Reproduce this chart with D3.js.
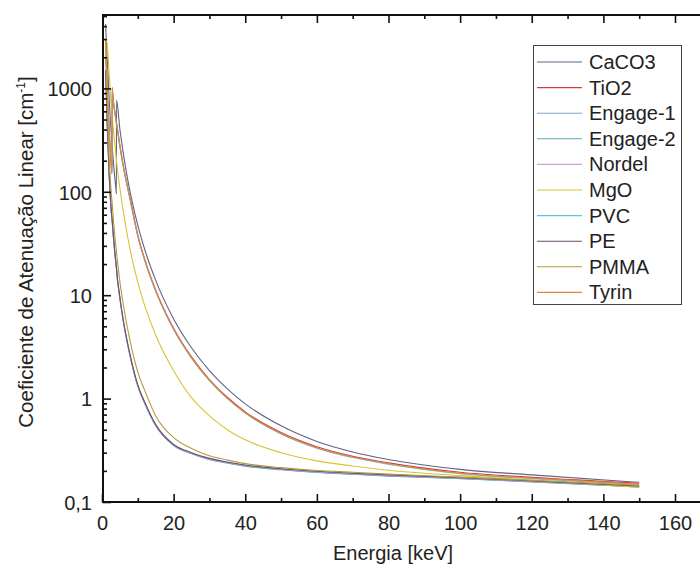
<!DOCTYPE html>
<html>
<head>
<meta charset="utf-8">
<script src="https://cdn.jsdelivr.net/npm/d3@7"></script>
<style>
  html, body { margin: 0; padding: 0; background: #fff; }
  svg text { font-family: "Liberation Sans", Arial, sans-serif; fill: #222; }
</style>
</head>
<body>
<svg id="chart" width="700" height="569"></svg>
<script>
// ---- data ----
const energies = [1, 1.5, 2, 2.8, 2.85, 3, 4, 4.03, 4.05, 5, 6, 8, 10, 12, 15, 20, 25, 30, 35, 40, 50, 60, 70, 80, 100, 120, 150];

const seriesNames = ["CaCO3", "TiO2", "Engage-1", "Engage-2", "Nordel", "MgO", "PVC", "PE", "PMMA", "Tyrin"];
const seriesColors = ["#5f6486", "#d9383a", "#74a9d4", "#5aaeae", "#c9a2dc", "#d8c431", "#55c6de", "#6a4c6e", "#b49b38", "#e0863a"];

const CaCO3   = [4200, 1850, 785, 285, 270, 232, 98, 96, 770, 403, 229, 94, 47.3, 27.2, 13.9, 5.9, 3.1, 1.86, 1.24, 0.89, 0.545, 0.385, 0.305, 0.258, 0.207, 0.183, 0.155];
const TiO2    = [2960, 918, 408, 153, 1020, 877, 479, 471, 467, 281, 175, 81.6, 38.2, 21.9, 11.2, 4.8, 2.53, 1.53, 1.03, 0.745, 0.469, 0.342, 0.277, 0.239, 0.194, 0.173, 0.152];
const Engage1 = [1460, 410, 146, 53.6, 51.7, 43.9, 18.5, 18.1, 17.7, 9.25, 5.46, 2.44, 1.32, 0.887, 0.546, 0.351, 0.293, 0.257, 0.238, 0.222, 0.205, 0.193, 0.185, 0.178, 0.168, 0.156, 0.14];
const Engage2 = [1470, 412, 147, 53.9, 51.9, 44.1, 18.6, 18.2, 17.8, 9.3, 5.5, 2.45, 1.32, 0.89, 0.549, 0.353, 0.294, 0.259, 0.239, 0.223, 0.206, 0.194, 0.186, 0.179, 0.169, 0.157, 0.14];
const Nordel  = [1485, 416, 148.5, 54.5, 52.5, 44.5, 18.8, 18.4, 18, 9.4, 5.55, 2.48, 1.34, 0.9, 0.555, 0.357, 0.297, 0.261, 0.242, 0.226, 0.208, 0.196, 0.188, 0.181, 0.17, 0.158, 0.141];
const MgO     = [3200, 2600, 1400, 560, 540, 470, 210, 205, 201, 108, 63, 26, 13.3, 7.8, 4.1, 1.86, 1.02, 0.68, 0.5, 0.4, 0.3, 0.25, 0.223, 0.203, 0.18, 0.163, 0.138];
const PVC     = [2870, 891, 396, 148.5, 990, 851, 465, 457, 453, 272, 170, 79.2, 37.1, 21.3, 10.9, 4.65, 2.46, 1.49, 1.0, 0.723, 0.455, 0.332, 0.269, 0.232, 0.188, 0.168, 0.148];
const PE      = [1500, 420, 150, 55, 53, 45, 19, 18.6, 18.2, 9.5, 5.6, 2.5, 1.35, 0.91, 0.56, 0.36, 0.3, 0.264, 0.244, 0.228, 0.21, 0.198, 0.19, 0.183, 0.172, 0.16, 0.143];
const PMMA    = [2100, 580, 215, 80, 77, 65, 27, 26.4, 26, 13.5, 7.9, 3.4, 1.8, 1.18, 0.68, 0.42, 0.33, 0.28, 0.255, 0.235, 0.215, 0.202, 0.194, 0.186, 0.174, 0.162, 0.145];
const Tyrin   = [2900, 900, 400, 150, 1000, 860, 470, 462, 458, 275, 172, 80, 37.5, 21.5, 11, 4.7, 2.48, 1.5, 1.01, 0.73, 0.46, 0.335, 0.272, 0.234, 0.19, 0.17, 0.149];

const seriesValues = [CaCO3, TiO2, Engage1, Engage2, Nordel, MgO, PVC, PE, PMMA, Tyrin];

const xMajorTicks = [0, 20, 40, 60, 80, 100, 120, 140, 160];
const xMinorTicks = [10, 30, 50, 70, 90, 110, 130, 150];
const yMajorTicks = [0.1, 1, 10, 100, 1000];
const yTickLabels = ["0,1", "1", "10", "100", "1000"];

const xTitle = "Energia [keV]";
const yTitleMain = "Coeficiente de Atenuação Linear [cm";
const yTitleSup = "-1";
const yTitleEnd = "]";

(function () {
// ---- layout ----
const svg = d3.select("#chart");
const W = 700, H = 569;
const pLeft = 103, pTop = 15, pBottom = 502;

const x = d3.scaleLinear().domain([0, 160]).range([102, 675]);
const y = d3.scaleLog().domain([0.1, 5000]).range([pBottom, pBottom - 103.4 * Math.log10(50000)]);

svg.append("rect").attr("width", W).attr("height", H).attr("fill", "#fff");

svg.append("clipPath").attr("id", "plotClip")
  .append("rect").attr("x", pLeft).attr("y", pTop).attr("width", W - pLeft).attr("height", pBottom - pTop);

// curves
const line = d3.line().x(d => x(d[0])).y(d => y(d[1])).curve(d3.curveMonotoneX);
const curves = svg.append("g").attr("clip-path", "url(#plotClip)");
seriesNames.forEach((name, i) => {
  const pts = energies.map((e, j) => [e, seriesValues[i][j]]);
  curves.append("path")
    .attr("d", line(pts))
    .attr("fill", "none")
    .attr("stroke", seriesColors[i])
    .attr("stroke-width", 1.1);
});

// axes
const fontSize = 20;
function styleAxis(g) {
  g.select(".domain").remove();
  g.selectAll(".tick line").attr("stroke", "#111").attr("stroke-width", 1.6);
  g.selectAll(".tick text").attr("font-size", fontSize).attr("fill", "#222")
    .attr("font-family", '"Liberation Sans", Arial, sans-serif');
}

const xb = svg.append("g").attr("transform", `translate(0,${pBottom})`)
  .call(d3.axisBottom(x).tickValues(xMajorTicks).tickSize(-8).tickPadding(14).tickFormat(d3.format("d")));
styleAxis(xb);
const xbm = svg.append("g").attr("transform", `translate(0,${pBottom})`)
  .call(d3.axisBottom(x).tickValues(xMinorTicks).tickSize(-4).tickFormat(""));
styleAxis(xbm);
const xt = svg.append("g").attr("transform", `translate(0,${pTop})`)
  .call(d3.axisTop(x).tickValues(xMajorTicks.filter(d => d > 0)).tickSize(-8).tickFormat(""));
styleAxis(xt);
const xtm = svg.append("g").attr("transform", `translate(0,${pTop})`)
  .call(d3.axisTop(x).tickValues(xMinorTicks).tickSize(-4).tickFormat(""));
styleAxis(xtm);

const yl = svg.append("g").attr("transform", `translate(${pLeft},0)`)
  .call(d3.axisLeft(y).tickValues(yMajorTicks).tickSize(-8).tickPadding(11)
    .tickFormat((d, i) => yTickLabels[i]));
styleAxis(yl);
yl.selectAll(".tick text").attr("dy", "0.36em");
const yMinor = [];
yMajorTicks.forEach(dec => {
  for (let k = 2; k <= 9; k++) { const v = dec * k; if (v <= 5000) yMinor.push(v); }
});
const ylm = svg.append("g").attr("transform", `translate(${pLeft},0)`)
  .call(d3.axisLeft(y).tickValues(yMinor).tickSize(-4).tickFormat(""));
styleAxis(ylm);

svg.append("line").attr("x1", pLeft).attr("x2", W).attr("y1", pBottom).attr("y2", pBottom)
  .attr("stroke", "#111").attr("stroke-width", 2);
svg.append("line").attr("x1", pLeft).attr("x2", W).attr("y1", pTop).attr("y2", pTop)
  .attr("stroke", "#111").attr("stroke-width", 2);
svg.append("line").attr("x1", pLeft).attr("x2", pLeft).attr("y1", pTop - 1).attr("y2", pBottom + 1)
  .attr("stroke", "#111").attr("stroke-width", 2);

svg.append("text").attr("x", 393).attr("y", 560).attr("text-anchor", "middle")
  .attr("font-size", fontSize).text(xTitle);
const yt = svg.append("text").attr("transform", "translate(33,252) rotate(-90)")
  .attr("text-anchor", "middle").attr("font-size", 20.5);
yt.append("tspan").text(yTitleMain);
yt.append("tspan").attr("font-size", 12).attr("dy", -8).text(yTitleSup);
yt.append("tspan").attr("dy", 8).text(yTitleEnd);

const lg = svg.append("g");
lg.append("rect").attr("x", 533.5).attr("y", 45.5).attr("width", 148).attr("height", 259)
  .attr("fill", "#fff").attr("stroke", "#444").attr("stroke-width", 1);
seriesNames.forEach((name, i) => {
  const yy = 62 + i * 25.6;
  lg.append("line").attr("x1", 537).attr("x2", 582).attr("y1", yy).attr("y2", yy)
    .attr("stroke", seriesColors[i]).attr("stroke-width", 1.1);
  lg.append("text").attr("x", 589).attr("y", yy + 7).attr("font-size", fontSize).text(name);
});
})();
</script>
</body>
</html>
